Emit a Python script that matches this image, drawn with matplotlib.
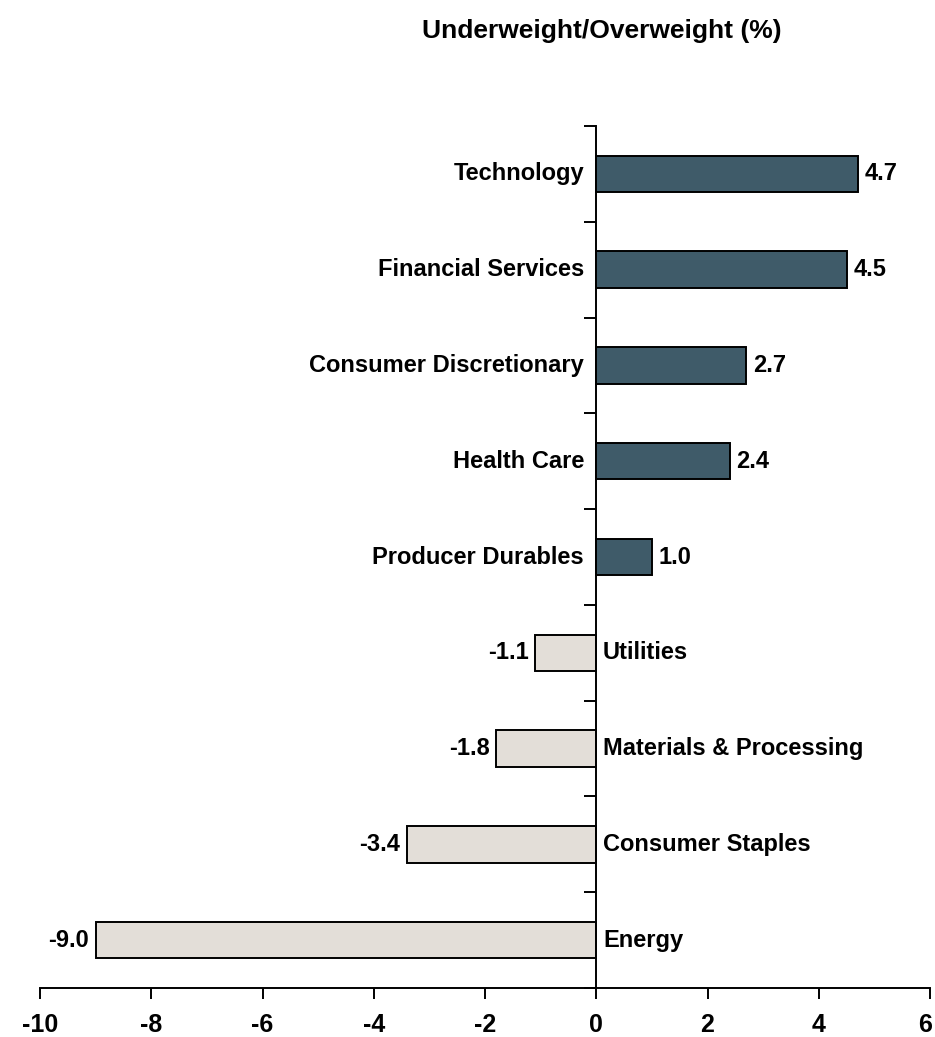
import matplotlib.pyplot as plt
from matplotlib.transforms import ScaledTranslation

plt.rcParams['font.family'] = ['Liberation Sans', 'DejaVu Sans']
plt.rcParams['font.weight'] = 'bold'

# Sektorer, från översta till nedersta stapeln
sectors = ["Technology", "Financial Services", "Consumer Discretionary", "Health Care",
           "Producer Durables", "Utilities", "Materials & Processing",
           "Consumer Staples", "Energy"]
values = [4.7, 4.5, 2.7, 2.4, 1.0, -1.1, -1.8, -3.4, -9.0]
xticks = [-10, -8, -6, -4, -2, 0, 2, 4, 6]

pos_color = "#3F5B69"
neg_color = "#E3DED8"

fig = plt.figure(figsize=(9.35, 10.37), dpi=100)
ax = fig.add_axes([40 / 935, 49 / 1037, 890 / 935, 862 / 1037])

ypos = list(range(len(sectors)))
colors = [pos_color if v > 0 else neg_color for v in values]
ax.barh(ypos, values, height=0.38, color=colors, edgecolor="black", linewidth=1.4, zorder=2)

ax.set_xlim(-10, 6)
ax.set_ylim(len(sectors) - 0.5, -0.5)

# Etiketter för sektor och värde
fs = 17
for y, name, v in zip(ypos, sectors, values):
    if v > 0:
        ax.text(-0.22, y, name, ha="right", va="center", fontsize=fs, fontweight="bold")
        ax.text(v + 0.12, y, f"{v:.1f}", ha="left", va="center", fontsize=fs, fontweight="bold")
    else:
        ax.text(0.12, y, name, ha="left", va="center", fontsize=fs, fontweight="bold")
        ax.text(v - 0.12, y, f"{v:.1f}", ha="right", va="center", fontsize=fs, fontweight="bold")

# Axlar
ax.spines["left"].set_position(("data", 0))
ax.spines["right"].set_visible(False)
ax.spines["top"].set_visible(False)
for s in ["left", "bottom"]:
    ax.spines[s].set_linewidth(1.4)

ax.set_yticks([y - 0.5 for y in range(len(sectors) + 1)])
ax.set_yticklabels([])
ax.tick_params(axis="y", direction="out", length=9, width=1.4)
ax.set_xticks(xticks)
ax.set_xticklabels([str(t) for t in xticks], fontsize=18, fontweight="bold")
ax.tick_params(axis="x", direction="out", length=8, width=1.4, pad=10)

# Sista etiketten flyttas lite åt vänster så den inte klipps vid kanten
last = ax.get_xticklabels()[-1]
last.set_transform(last.get_transform() + ScaledTranslation(-5 / 100, 0, fig.dpi_scale_trans))

fig.text(602 / 935, 1 - 31 / 1037, "Underweight/Overweight (%)", ha="center", va="center",
         fontsize=19, fontweight="bold")

fig.savefig("out.png", dpi=100)
